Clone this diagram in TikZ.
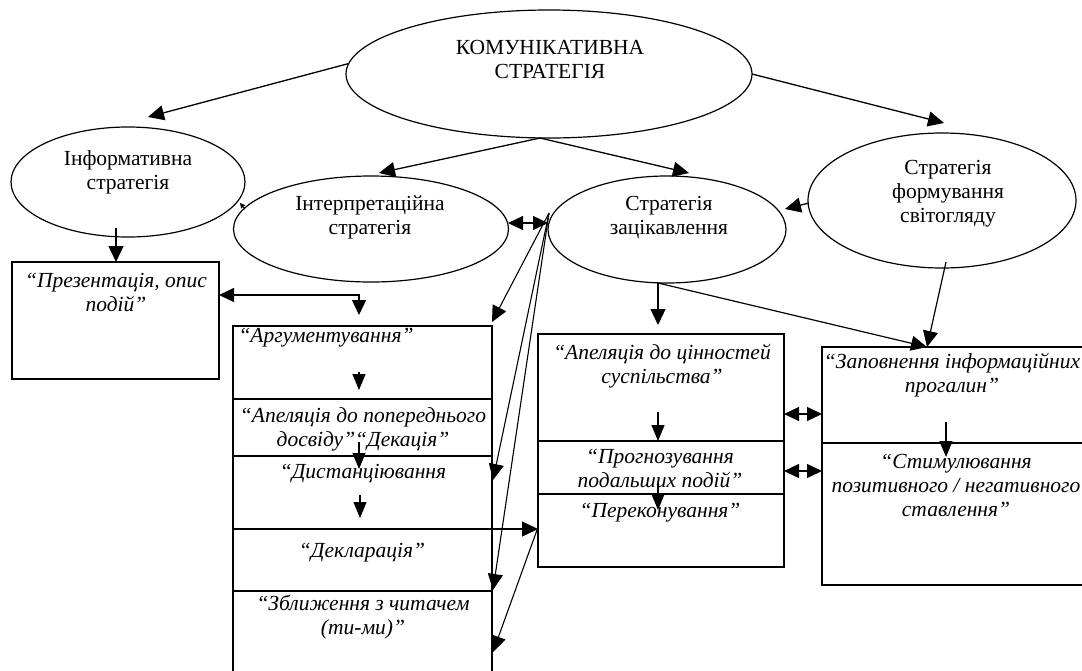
\documentclass[tikz,border=0pt]{standalone}
\usepackage{fontspec}
\setmainfont{Liberation Serif}
\usetikzlibrary{shapes.geometric,arrows.meta}
\begin{document}
\begin{tikzpicture}[x=1pt,y=-1pt,
  every node/.style={inner sep=0pt, outer sep=0pt},
  ell/.style={draw, ellipse, line width=1.2pt},
  boxe/.style={draw, rectangle, line width=1.4pt, anchor=north west},
  lbl/.style={align=center, font=\fontsize{21.5}{24}\selectfont},
  ilbl/.style={align=center, font=\fontsize{21.5}{24}\selectfont\itshape},
  tip/.style={-{Triangle[length=16pt,width=15pt]}},
  arr/.style={line width=1.3pt, tip},
  iarr/.style={line width=1.3pt, -{Triangle[length=16pt,width=13pt]}},
  darr/.style={line width=1.3pt, {Triangle[length=15pt,width=14pt]}-{Triangle[length=15pt,width=14pt]}},
]
\useasboundingbox (0,0) rectangle (1082,670);
\clip (0,0) rectangle (1082,670);

% ellipses
\node[ell, minimum width=406pt, minimum height=128pt] (main) at (549,74) {};
\node[ell, minimum width=234pt, minimum height=110pt] (inform) at (128,182) {};
\node[ell, minimum width=275pt, minimum height=106pt] (interp) at (371,229) {};
\node[ell, minimum width=238pt, minimum height=107pt] (zacik) at (667,229.5) {};
\node[ell, minimum width=268pt, minimum height=135pt] (svit) at (942,200.5) {};

\node[lbl] (mainT) at (550,59) {КОМУНІКАТИВНА\\СТРАТЕГІЯ};
\node[lbl] (informT) at (128,172) {Інформативна\\стратегія};
\node[lbl] (interpT) at (370,217) {Інтерпретаційна\\стратегія};
\node[lbl] (zacikT) at (669,217) {Стратегія\\зацікавлення};
\node[lbl] (svitT) at (948,194) {Стратегія\\формування\\світогляду};

% boxes
\node[boxe, minimum width=207pt, minimum height=117pt] (pres) at (12,262) {};
\node[boxe, minimum width=259pt, minimum height=73pt] (arg) at (233,326) {};
\node[boxe, minimum width=259pt, minimum height=57pt] (apel) at (233,399) {};
\node[boxe, minimum width=259pt, minimum height=73pt] (dist) at (233,456) {};
\node[boxe, minimum width=259pt, minimum height=62pt] (decl) at (233,529) {};
\node[boxe, minimum width=259pt, minimum height=100pt] (zbl) at (233,591) {};
\node[boxe, minimum width=246pt, minimum height=107pt] (cin) at (538,334) {};
\node[boxe, minimum width=246pt, minimum height=53pt] (prog) at (538,441) {};
\node[boxe, minimum width=246pt, minimum height=73pt] (perek) at (538,494) {};
\node[boxe, minimum width=273pt, minimum height=96pt] (zap) at (822,347) {};
\node[boxe, minimum width=273pt, minimum height=142pt] (stym) at (822,443) {};

\node[ilbl] (presT) at (116,292) {“Презентація, опис\\подій”};
\node[ilbl] (argT) at (326,338) {“Аргументування”};
\node[ilbl] (apelT) at (363,429) {“Апеляція до попереднього\\досвіду”“Декація”};
\node[ilbl] (distT) at (363,474) {“Дистанціювання};
\node[ilbl] (declT) at (362,553) {“Декларація”};
\node[ilbl] (zblT) at (363,617) {“Зближення з читачем\\(ти-ми)”};
\node[ilbl] (cinT) at (662,366) {“Апеляція до цінностей\\суспільства”};
\node[ilbl] (progT) at (660,468) {“Прогнозування\\подальших подій”};
\node[ilbl] (perekT) at (660,513) {“Переконування”};
\node[ilbl] (zapT) at (952,375) {“Заповнення інформаційних\\прогалин”};
\node[ilbl] (stymT) at (956,485) {“Стимулювання\\позитивного / негативного\\ставлення”};

% connector end points
\coordinate (tInf) at (148,117);
\coordinate (mB) at (540,138);
\coordinate (tInt) at (379,173);
\coordinate (tZac) at (689,173);
\coordinate (tSvit) at (944,123);
\coordinate (infS) at (116,228);
\coordinate (ieR) at (508,223);
\coordinate (zaL) at (548,223);
\coordinate (svL) at (809,203);
\coordinate (tSZ) at (785,209);
\coordinate (elb) at (359,295);
\coordinate (tArg) at (359,315);
\coordinate (zO) at (549,213);
\coordinate (tCorner) at (492,322);
\coordinate (tDist) at (493,480);
\coordinate (tZbl) at (493,590);
\coordinate (pkL) at (537,530);
\coordinate (tZbl2) at (493,652);
\coordinate (zB) at (658,283);
\coordinate (tZap) at (927,347);
\coordinate (svB) at (946,262);

% connectors from the main ellipse
\draw[arr] (main.177) -- (tInf);
\draw[arr] (mB) -- (tInt);
\draw[arr] (mB) -- (tZac);
\draw[arr] (main.east) -- (tSvit);

% informative
\draw[arr] (infS) -- (infS |- pres.north);
\draw[line width=0.8pt, -{Triangle[length=5pt,width=5pt]}] (245,209) -- (240,203);
\draw[darr] (pres.east |- elb) -- (elb) -- (tArg);

% interpretation <-> interest
\draw[darr] (ieR) -- (zaL);
\draw[arr] (svL) -- (tSZ);

% interest ellipse to interpretation column
\draw[line width=1.1pt, tip] (zO) -- (tCorner);
\draw[line width=1.1pt, tip] (zO) -- (tDist);
\draw[line width=1.1pt, tip] (zO) -- (tZbl);
\draw[line width=1.1pt, tip] (pkL) -- (tZbl2);
\draw[arr] (decl.north east) -- (decl.north east -| perek.west);

% inside interpretation column
\draw[iarr] (359,372) -- (359,390);
\draw[iarr] (359,442) -- (359,469);
\draw[iarr] (360,495) -- (360,518);

% interest column
\draw[arr] (zB) -- (zB |- 0,325);
\draw[line width=1.2pt, tip] (zB) -- (tZap);
\draw[line width=1.2pt, tip] (svB) -- (tZap);
\draw[iarr] (658,412) -- (658,441);
\draw[iarr] (658,483) -- (658,510);
\draw[iarr] (946,422) -- (946,457);
\draw[darr] (cin.east |- 0,414) -- (zap.west |- 0,414);
\draw[darr] (cin.east |- 0,471) -- (zap.west |- 0,471);
\end{tikzpicture}
\end{document}
